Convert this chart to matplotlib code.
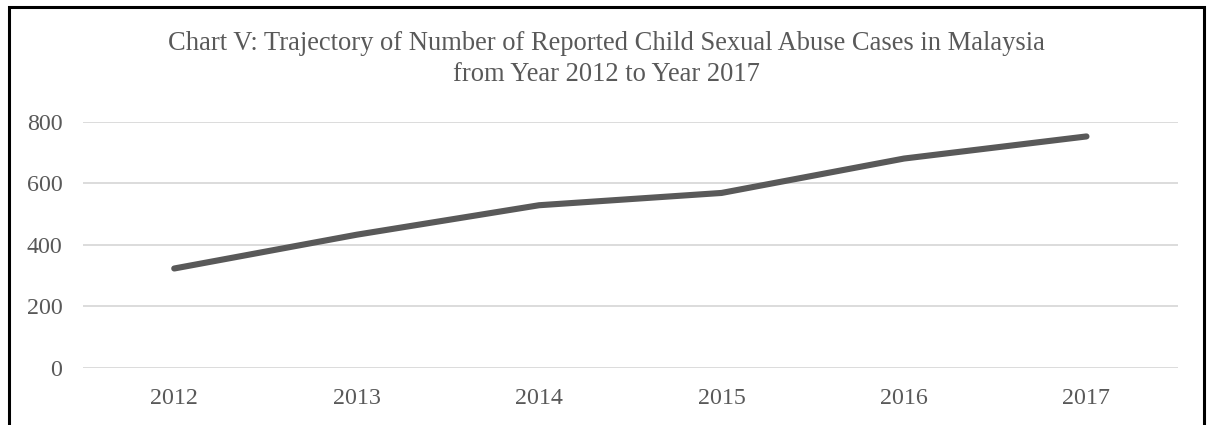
import matplotlib.pyplot as plt
from matplotlib.patches import Rectangle

years = ["2012", "2013", "2014", "2015", "2016", "2017"]
cases = [323, 433, 529, 569, 681, 753]
yticks = [0, 200, 400, 600, 800]

plt.rcParams['font.family'] = ['Liberation Serif', 'DejaVu Serif']
grey = "#595959"

fig = plt.figure(figsize=(12.08, 4.25), dpi=100)
ax = fig.add_axes([83 / 1208, 1 - 367.7 / 425, (1177.7 - 83) / 1208, (367.7 - 122) / 425])

ax.plot(range(len(years)), cases, color=grey, lw=4.4, solid_capstyle='round')
ax.set_xlim(-0.5, len(years) - 0.5)
ax.set_ylim(0, 800)
ax.set_xticks(range(len(years)))
ax.set_xticklabels(years)
ax.set_yticks(yticks)
ax.grid(axis='y', color="#d9d9d9", lw=1.3)
ax.set_axisbelow(True)
for s in ax.spines.values():
    s.set_visible(False)
ax.tick_params(length=0, labelsize=17.3, colors=grey)
ax.tick_params(axis='y', pad=14.9)
ax.tick_params(axis='x', pad=14.3)

fig.text(0.502, 1 - 44 / 425,
         "Chart V: Trajectory of Number of Reported Child Sexual Abuse Cases in Malaysia",
         ha='center', va='center', fontsize=19.1, color=grey)
fig.text(0.502, 1 - 74.5 / 425, "from Year 2012 to Year 2017",
         ha='center', va='center', fontsize=19.1, color=grey)

# outer chart frame, bottom edge falls outside the image
fig.patches.append(Rectangle((8.5 / 1208, -0.05), (1203.5 - 8.5) / 1208, 1.05 - 7 / 425,
                             transform=fig.transFigure, fill=False,
                             edgecolor='black', lw=2.2))

fig.savefig("out.png", dpi=100)
